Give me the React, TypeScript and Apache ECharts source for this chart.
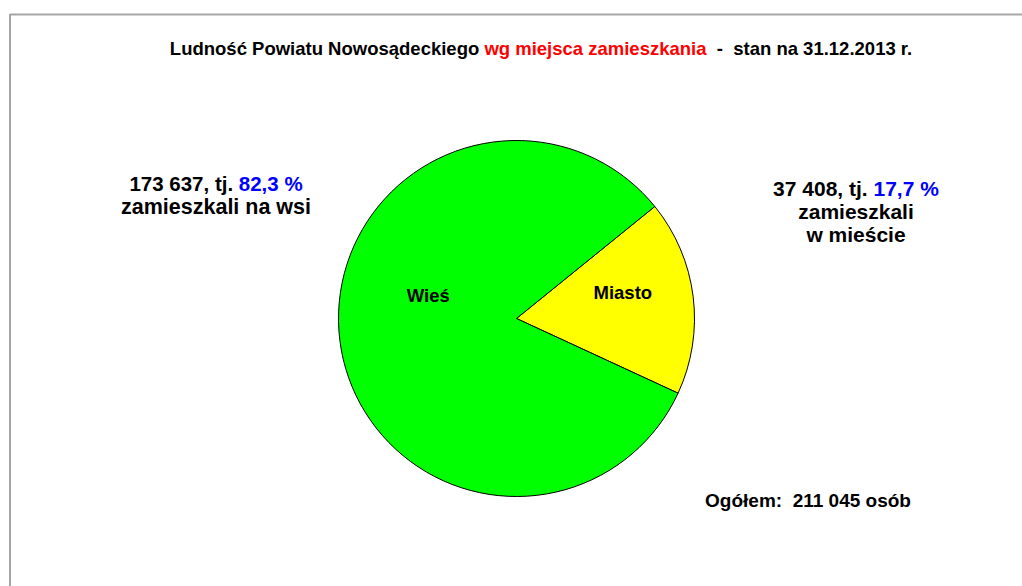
import React, { useEffect, useRef } from "react";
import * as echarts from "echarts";

const categories = ["Miasto", "Wieś"];
const values = [37408, 173637];
const colors = ["#FFFF00", "#00FF00"];
const titleMain = "Ludność Powiatu Nowosądeckiego ";
const titleRed = "wg miejsca zamieszkania";
const titleTail = "  -  stan na 31.12.2013 r.";
const leftNote = ["173 637, tj. ", "82,3 %", "zamieszkali na wsi"];
const rightNote = ["37 408, tj. ", "17,7 %", "zamieszkali", "w mieście"];
const totalNote = "Ogółem:  211 045 osób";

const FONT = "'Liberation Sans', Arial, sans-serif";

export default function App() {
  const ref = useRef<HTMLDivElement>(null);
  useEffect(() => {
    if (!ref.current) return;
    const chart = echarts.init(ref.current, null, { renderer: "svg" });
    const labelShift: Record<string, [number, number]> = {
      Miasto: [15, -15],
      "Wieś": [3, -34],
    };
    chart.setOption({
      animation: false,
      backgroundColor: "#ffffff",
      series: [
        {
          type: "pie",
          center: [516.5, 318.5],
          radius: 178,
          startAngle: 39,
          clockwise: true,
          label: {
            show: true,
            position: "inner",
            formatter: "{b}",
            color: "#000",
            fontFamily: FONT,
            fontWeight: "bold",
            fontSize: 18.5,
          },
          labelLine: { show: false },
          labelLayout: (p: any) => {
            const s = labelShift[categories[p.dataIndex]] || [0, 0];
            return { dx: s[0], dy: s[1] };
          },
          itemStyle: { borderColor: "#000", borderWidth: 1 },
          emphasis: { disabled: true },
          data: categories.map((c, i) => ({
            name: c,
            value: values[i],
            itemStyle: { color: colors[i] },
          })),
        },
      ],
      graphic: [
        {
          type: "line",
          shape: { x1: 10, y1: 14.5, x2: 1022, y2: 14.5 },
          style: { stroke: "#a6a6a6", lineWidth: 2 },
        },
        {
          type: "line",
          shape: { x1: 10, y1: 14, x2: 10, y2: 586 },
          style: { stroke: "#a6a6a6", lineWidth: 2 },
        },
        {
          type: "text",
          x: 541,
          y: 48,
          style: {
            text: `{a|${titleMain}}{r|${titleRed}}{a|${titleTail}}`,
            align: "center",
            verticalAlign: "middle",
            rich: {
              a: { fill: "#000", color: "#000", fontFamily: FONT, fontWeight: "bold", fontSize: 18.5 },
              r: { fill: "#ff0000", color: "#ff0000", fontFamily: FONT, fontWeight: "bold", fontSize: 18.5 },
            },
          },
        },
        {
          type: "text",
          x: 216,
          y: 195,
          style: {
            text: `{a|${leftNote[0]}}{b|${leftNote[1]}}\n{c|${leftNote[2]}}`,
            align: "center",
            verticalAlign: "middle",
            rich: {
              a: { fill: "#000", color: "#000", fontFamily: FONT, fontWeight: "bold", fontSize: 20.5, lineHeight: 23 },
              b: { fill: "#0000ff", color: "#0000ff", fontFamily: FONT, fontWeight: "bold", fontSize: 20.5, lineHeight: 23 },
              c: { fill: "#000", color: "#000", fontFamily: FONT, fontWeight: "bold", fontSize: 21.5, lineHeight: 23 },
            },
          },
        },
        {
          type: "text",
          x: 856,
          y: 211,
          style: {
            text: `{a|${rightNote[0]}}{b|${rightNote[1]}}\n{a|${rightNote[2]}}\n{a|${rightNote[3]}}`,
            align: "center",
            verticalAlign: "middle",
            rich: {
              a: { fill: "#000", color: "#000", fontFamily: FONT, fontWeight: "bold", fontSize: 21, lineHeight: 23 },
              b: { fill: "#0000ff", color: "#0000ff", fontFamily: FONT, fontWeight: "bold", fontSize: 21, lineHeight: 23 },
            },
          },
        },
        {
          type: "text",
          x: 808,
          y: 500,
          style: {
            text: totalNote,
            align: "center",
            verticalAlign: "middle",
            fill: "#000",
            font: `bold 19px ${FONT}`,
          },
        },
      ],
    });
    return () => chart.dispose();
  }, []);
  return (
    <div
      ref={ref}
      style={{ position: "fixed", left: 0, top: 0, width: 1022, height: 586 }}
    />
  );
}
